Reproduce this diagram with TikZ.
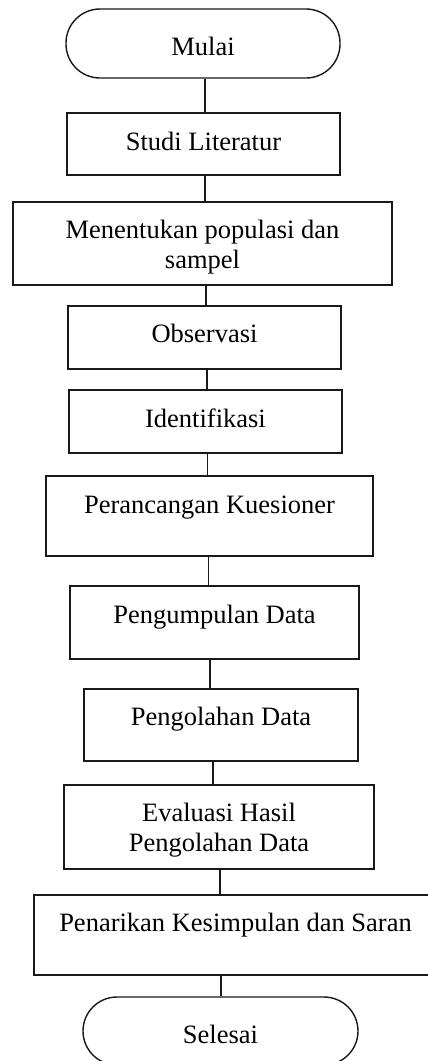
\documentclass[tikz,border=0pt]{standalone}
\usepackage{fontspec}
\setmainfont{Liberation Serif}
\begin{document}
\begin{tikzpicture}[x=1pt,y=-1pt,
  box/.style={draw=black!90, line width=1.4pt, inner sep=0pt, rectangle},
  term/.style={box, rounded corners=34pt},
  lbl/.style={font=\fontsize{26.5}{30.5}\selectfont, text height=18pt, text depth=6pt, align=center, inner sep=0pt, anchor=center},
  conn/.style={draw=black!90, line width=1.4pt}]
\useasboundingbox (0,0) rectangle (428,1061);
\fill[white] (0,0) rectangle (428,1061);

\node[term, minimum width=274pt, minimum height=69pt,
  label={[lbl, yshift=-5.5pt]center:Mulai}] (mulai) at (203,43.5) {};
\node[box, minimum width=273pt, minimum height=62pt,
  label={[lbl]center:Studi Literatur}] (studi) at (203.5,144) {};
\node[box, minimum width=379pt, minimum height=83pt,
  label={[lbl, yshift=-19pt]center:Menentukan populasi dan\\sampel}] (populasi) at (202.5,243.5) {};
\node[box, minimum width=273pt, minimum height=63pt,
  label={[lbl, yshift=1.5pt]center:Observasi}] (observasi) at (204.5,337.5) {};
\node[box, minimum width=273pt, minimum height=63pt,
  label={[lbl, yshift=0.5pt]center:Identifikasi}] (identifikasi) at (205.5,421.5) {};
\node[box, minimum width=327pt, minimum height=80pt,
  label={[lbl, yshift=9pt]center:Perancangan Kuesioner}] (kuesioner) at (209.5,516) {};
\node[box, minimum width=289pt, minimum height=73pt,
  label={[lbl, yshift=5.5pt]center:Pengumpulan Data}] (pengumpulan) at (214.5,622.5) {};
\node[box, minimum width=274pt, minimum height=72pt,
  label={[lbl, yshift=6pt]center:Pengolahan Data}] (pengolahan) at (221,725) {};
\node[box, minimum width=310pt, minimum height=84pt,
  label={[lbl, yshift=-18.5pt]center:Evaluasi Hasil\\Pengolahan Data}] (evaluasi) at (219,827) {};
\node[box, minimum width=399pt, minimum height=80pt,
  label={[lbl, yshift=9.3pt, xshift=2pt]center:Penarikan Kesimpulan dan Saran}] (penarikan) at (233.5,935) {};
\node[term, minimum width=275pt, minimum height=68pt,
  label={[lbl, yshift=-6pt]center:Selesai}] (selesai) at (220.5,1031) {};

\draw[conn] ([xshift=2pt]mulai.south) -- ([xshift=2pt]mulai.south |- studi.north);
\draw[conn] ([xshift=1.5pt]studi.south) -- ([xshift=1.5pt]studi.south |- populasi.north);
\draw[conn] ([xshift=3.5pt]populasi.south) -- ([xshift=3.5pt]populasi.south |- observasi.north);
\draw[conn] ([xshift=2.5pt]observasi.south) -- ([xshift=2.5pt]observasi.south |- identifikasi.north);
\draw[conn] ([xshift=2pt]identifikasi.south) -- ([xshift=2pt]identifikasi.south |- kuesioner.north);
\draw[conn] ([xshift=-1pt]kuesioner.south) -- ([xshift=-1pt]kuesioner.south |- pengumpulan.north);
\draw[conn] ([xshift=-4.5pt]pengumpulan.south) -- ([xshift=-4.5pt]pengumpulan.south |- pengolahan.north);
\draw[conn] ([xshift=-8pt]pengolahan.south) -- ([xshift=-8pt]pengolahan.south |- evaluasi.north);
\draw[conn] ([xshift=1pt]evaluasi.south) -- ([xshift=1pt]evaluasi.south |- penarikan.north);
\draw[conn] ([xshift=-12.5pt]penarikan.south) -- ([xshift=-12.5pt]penarikan.south |- selesai.north);
\end{tikzpicture}
\end{document}
